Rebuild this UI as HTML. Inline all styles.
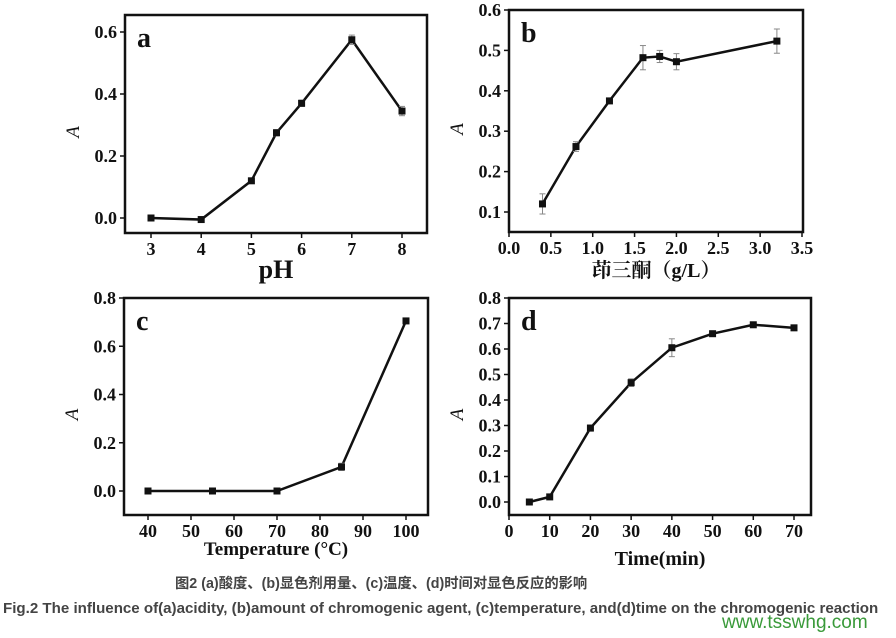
<!DOCTYPE html>
<html><head><meta charset="utf-8">
<style>
body{margin:0;background:#fff;width:896px;height:638px;overflow:hidden;position:relative}
svg{position:absolute;left:0;top:0}
.t{font-family:"Liberation Serif","Noto Serif CJK SC",serif;font-weight:bold;fill:#111}
.cap{position:absolute;font-family:"Liberation Sans","Noto Sans CJK SC",sans-serif;font-weight:bold;color:#444;white-space:nowrap}
</style></head><body>
<svg id="s" width="896" height="638"></svg>
<div class="cap" style="left:175px;top:572px;font-size:14.3px">图2 (a)酸度、(b)显色剂用量、(c)温度、(d)时间对显色反应的影响</div>
<div class="cap" style="left:3px;top:600px;font-size:15.1px">Fig.2 The influence of(a)acidity, (b)amount of chromogenic agent, (c)temperature, and(d)time on the chromogenic reaction</div>
<div class="cap" style="left:722px;top:612px;font-size:19px;font-weight:normal;color:#3a9a3a">www.tsswhg.com</div>
<script>
const aX=[3,4,5,5.5,6,7,8];
const aY=[0,-0.005,0.12,0.275,0.37,0.575,0.345];
const aE=[0.005,0.005,0.008,0.01,0.01,0.015,0.015];
const bX=[0.4,0.8,1.2,1.6,1.8,2.0,3.2];
const bY=[0.12,0.262,0.375,0.482,0.485,0.472,0.523];
const bE=[0.025,0.012,0.005,0.03,0.015,0.02,0.03];
const cX=[40,55,70,85,100];
const cY=[0,0,0,0.1,0.705];
const cE=[0.005,0.005,0.005,0.015,0.01];
const dX=[5,10,20,30,40,50,60,70];
const dY=[0,0.02,0.29,0.468,0.605,0.66,0.695,0.683];
const dE=[0.004,0.005,0.012,0.015,0.035,0.008,0.005,0.008];
const aXT=["3","4","5","6","7","8"], aYT=["0.0","0.2","0.4","0.6"];
const bXT=["0.0","0.5","1.0","1.5","2.0","2.5","3.0","3.5"], bYT=["0.1","0.2","0.3","0.4","0.5","0.6"];
const cXT=["40","50","60","70","80","90","100"], cYT=["0.0","0.2","0.4","0.6","0.8"];
const dXT=["0","10","20","30","40","50","60","70"], dYT=["0.0","0.1","0.2","0.3","0.4","0.5","0.6","0.7","0.8"];

const NS="http://www.w3.org/2000/svg", S=document.getElementById('s');
function el(t,a,p){const e=document.createElementNS(NS,t);for(const k in a)e.setAttribute(k,a[k]);(p||S).appendChild(e);return e;}
function panel(o){
  const g=el('g',{});
  
  
  const sx=v=>o.x0+(v-o.xv0)*(o.x1-o.x0)/(o.xv1-o.xv0);
  const sy=v=>o.y0+(v-o.yv0)*(o.y1-o.y0)/(o.yv1-o.yv0);
  const f=el('rect',{x:o.L,y:o.T,width:o.R-o.L,height:o.B-o.T,fill:'none',stroke:'#111','stroke-width':2.5},g);
  
  
  o.xt.forEach(t=>{const v=parseFloat(t),x=sx(v);
    el('line',{x1:x,x2:x,y1:o.B,y2:o.B+5,stroke:'#111','stroke-width':1.5},g);
    const tx=el('text',{x:x,y:o.B+22,'text-anchor':'middle',class:'t',style:'font-size:18px'},g);tx.textContent=t;
    
    });
  o.yt.forEach(t=>{const v=parseFloat(t),y=sy(v);
    el('line',{x1:o.L-5,x2:o.L,y1:y,y2:y,stroke:'#111','stroke-width':1.5},g);
    const tx=el('text',{x:o.L-8,y:y+6,'text-anchor':'end',class:'t',style:'font-size:18px'},g);tx.textContent=t;
    
    });
  const pts=o.X.map((v,i)=>sx(v)+','+sy(o.Y[i])).join(' ');
  const ln=el('polyline',{points:pts,fill:'none',stroke:'#111','stroke-width':2.5},g);
  
  
  o.X.forEach((v,i)=>{const x=sx(v),y=sy(o.Y[i]),e=o.E[i];
    el('line',{x1:x,x2:x,y1:sy(o.Y[i]+e),y2:sy(o.Y[i]-e),stroke:'#888','stroke-width':1},g);
    el('line',{x1:x-3,x2:x+3,y1:sy(o.Y[i]+e),y2:sy(o.Y[i]+e),stroke:'#888','stroke-width':1},g);
    el('line',{x1:x-3,x2:x+3,y1:sy(o.Y[i]-e),y2:sy(o.Y[i]-e),stroke:'#888','stroke-width':1},g);
    const m=el('rect',{x:x-3.5,y:y-3.5,width:7,height:7,fill:'#111'},g);
    
    });
  const lb=el('text',{x:o.L+12,y:o.T+32,class:'t',style:'font-size:28px'},g);lb.textContent=o.id;
  
  
  const yl=el('text',{x:0,y:0,class:'t',style:'font-size:19px;font-weight:normal;font-style:italic',transform:`translate(${o.L-46},${(o.T+o.B)/2+8}) rotate(-90)`,'text-anchor':'middle'},g);yl.textContent='A';
  
  
  const xl=el('text',{x:(o.L+o.R)/2,y:o.xly,'text-anchor':'middle',class:'t',style:'font-size:'+o.xls+'px'},g);xl.textContent=o.xl;
  
  
}
panel({id:'a',L:125,R:427,T:15,B:233,x0:151,x1:402,xv0:3,xv1:8,y0:218,y1:32,yv0:0,yv1:0.6,X:aX,Y:aY,E:aE,xt:aXT,yt:aYT,xl:'pH',xly:278,xls:26});
panel({id:'b',L:509,R:803,T:10,B:232,x0:509,x1:802,xv0:0,xv1:3.5,y0:212,y1:10,yv0:0.1,yv1:0.6,X:bX,Y:bY,E:bE,xt:bXT,yt:bYT,xl:'茚三酮（g/L）',xly:277,xls:20});
panel({id:'c',L:124,R:428,T:298,B:515,x0:148,x1:406,xv0:40,xv1:100,y0:491,y1:298,yv0:0,yv1:0.8,X:cX,Y:cY,E:cE,xt:cXT,yt:cYT,xl:'Temperature (°C)',xly:555,xls:19});
panel({id:'d',L:509,R:811,T:298,B:515,x0:509,x1:794,xv0:0,xv1:70,y0:502,y1:298,yv0:0,yv1:0.8,X:dX,Y:dY,E:dE,xt:dXT,yt:dYT,xl:'Time(min)',xly:565,xls:20});
</script>
</body></html>
